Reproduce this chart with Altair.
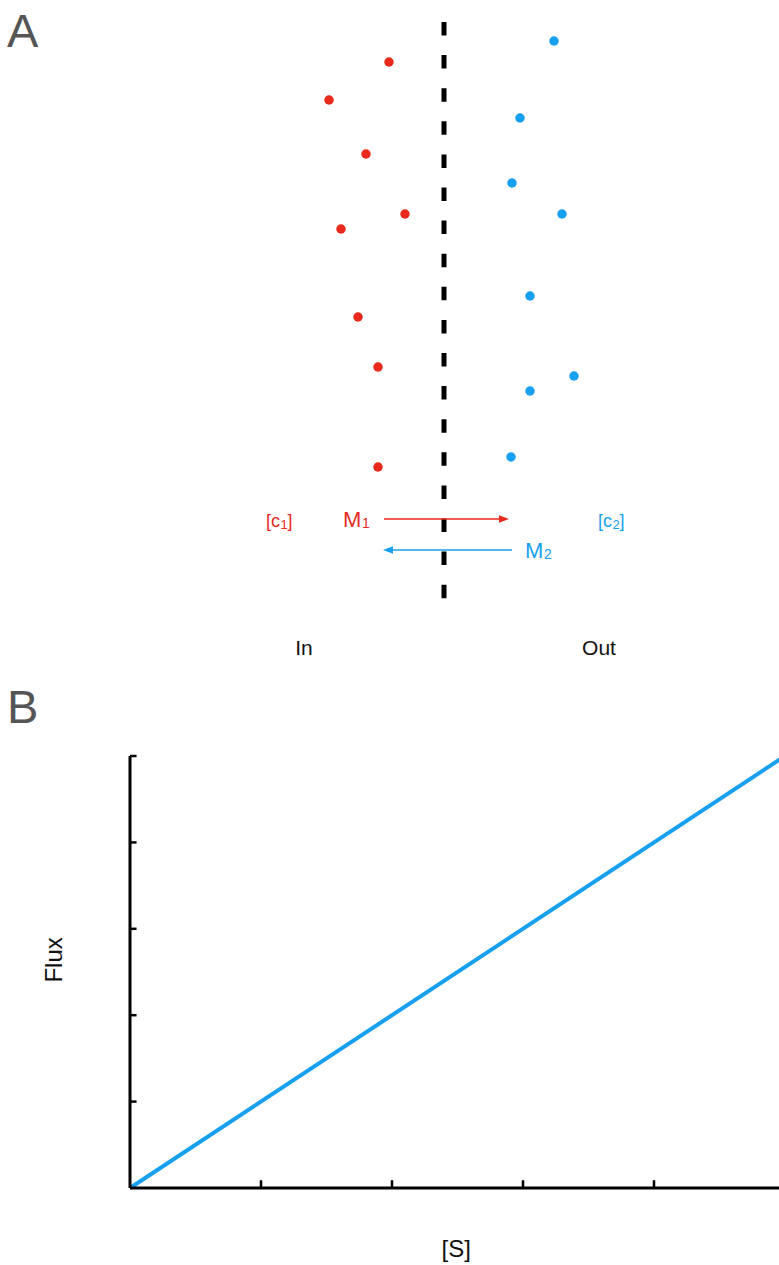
import altair as alt
import pandas as pd

# ---------------- data ----------------
# Panel A (schematic positions)
red_x = [389, 329, 366, 405, 341, 358, 378, 378]
red_y = [62, 100, 154, 214, 229, 317, 367, 467]
blue_x = [554, 520, 512, 562, 530, 574, 530, 511]
blue_y = [41, 118, 183, 214, 296, 376, 391, 457]
membrane_x = [444]
membrane_y = [22, 600]
arrow1 = {"x": [384], "x2": [500], "y": [519], "tip": [509]}
arrow2 = {"x": [512], "x2": [392], "y": [550], "tip": [383]}
# label fragments (main text + subscripts)
red_text = ["[c", "1", "]", "M", "1"]
red_tx = [266, 280.5, 287.5, 343, 362]
red_ty = [527, 529, 527, 527, 528]
red_size = [18, 13, 18, 22, 14]
blue_text = ["[c", "2", "]", "M", "2"]
blue_tx = [598, 612.5, 619.5, 525, 544]
blue_ty = [527, 529, 527, 558, 559]
blue_size = [18, 13, 18, 22, 14]
side_text = ["In", "Out"]
side_x = [304, 599]
side_y = [655, 655]
panel_text = ["A", "B"]
panel_x = [7, 7]
panel_y = [47, 723]

# Panel B
s_vals = [0, 5]
flux_vals = [0, 5]
x_ticks = [1, 2, 3, 4]
y_ticks = [1, 2, 3, 4, 5]

RED = "#E8291C"
BLUE = "#18A0F0"
FONT = "Liberation Sans"
W, H = 779, 1265

AX = alt.Scale(domain=[0, W], range=[0, W])
AY = alt.Scale(domain=[0, H], range=[0, H])
BX = alt.Scale(domain=[0, 5], range=[130, 785])
BY = alt.Scale(domain=[0, 5], range=[1188, 756])


def ax(f):
    return alt.X(f, type="quantitative", scale=AX, axis=None)


def ay(f):
    return alt.Y(f, type="quantitative", scale=AY, axis=None)


def bx(f):
    return alt.X(f, type="quantitative", scale=BX, axis=None)


def by(f):
    return alt.Y(f, type="quantitative", scale=BY, axis=None)


layers = []

# dots
layers.append(alt.Chart(pd.DataFrame({"x": red_x, "y": red_y})).mark_circle(
    size=90, color=RED, opacity=1).encode(x=ax("x"), y=ay("y")))
layers.append(alt.Chart(pd.DataFrame({"x": blue_x, "y": blue_y})).mark_circle(
    size=90, color=BLUE, opacity=1).encode(x=ax("x"), y=ay("y")))

# membrane
layers.append(alt.Chart(pd.DataFrame({"x": membrane_x, "y": [membrane_y[0]], "y2": [membrane_y[1]]})).mark_rule(
    color="black", strokeWidth=5, strokeDash=[13.5, 19.6]).encode(x=ax("x"), y=ay("y"), y2=alt.Y2("y2")))

# arrows
for arr, col, shape in [
    (arrow1, RED, "M 0 0 L -1 -0.38 L -1 0.38 Z"),
    (arrow2, BLUE, "M 0 0 L 1 -0.38 L 1 0.38 Z"),
]:
    df = pd.DataFrame(arr)
    layers.append(alt.Chart(df).mark_rule(color=col, strokeWidth=1.6).encode(
        x=ax("x"), x2=alt.X2("x2"), y=ay("y")))
    layers.append(alt.Chart(df).mark_point(
        shape=shape, size=400, filled=True, color=col, opacity=1, strokeWidth=0).encode(
        x=ax("tip"), y=ay("y")))

# labels with subscripts
for txt, tx, ty, tsz, col in [
    (red_text, red_tx, red_ty, red_size, RED),
    (blue_text, blue_tx, blue_ty, blue_size, BLUE),
]:
    df = pd.DataFrame({"text": txt, "x": tx, "y": ty, "size": tsz})
    for sz in sorted(set(tsz)):
        sub = df[df["size"] == sz]
        layers.append(alt.Chart(sub).mark_text(
            font=FONT, fontSize=sz, color=col, align="left", baseline="alphabetic").encode(
            x=ax("x"), y=ay("y"), text="text:N"))

layers.append(alt.Chart(pd.DataFrame({"text": side_text, "x": side_x, "y": side_y})).mark_text(
    font=FONT, fontSize=21, color="#111111", align="center", baseline="alphabetic").encode(
    x=ax("x"), y=ay("y"), text="text:N"))

layers.append(alt.Chart(pd.DataFrame({"text": panel_text, "x": panel_x, "y": panel_y})).mark_text(
    font=FONT, fontSize=47, color="#555555", align="left", baseline="alphabetic").encode(
    x=ax("x"), y=ay("y"), text="text:N"))

# Panel B: line
layers.append(alt.Chart(pd.DataFrame({"s": s_vals, "flux": flux_vals})).mark_line(
    color=BLUE, strokeWidth=4, clip=False).encode(x=bx("s"), y=by("flux")))

# Panel B: axes lines
layers.append(alt.Chart(pd.DataFrame({"x": [0], "x2": [5], "y": [0]})).mark_rule(
    color="black", strokeWidth=3).encode(x=bx("x"), x2=alt.X2("x2"), y=by("y")))
layers.append(alt.Chart(pd.DataFrame({"x": [0], "y": [0], "y2": [5]})).mark_rule(
    color="black", strokeWidth=3).encode(x=bx("x"), y=by("y"), y2=alt.Y2("y2")))

# Panel B: inward ticks
layers.append(alt.Chart(pd.DataFrame({"x": x_ticks, "y": [0] * len(x_ticks), "y2": [0.09] * len(x_ticks)})).mark_rule(
    color="black", strokeWidth=2.5).encode(x=bx("x"), y=by("y"), y2=alt.Y2("y2")))
layers.append(alt.Chart(pd.DataFrame({"y": y_ticks, "x": [0] * len(y_ticks), "x2": [0.05] * len(y_ticks)})).mark_rule(
    color="black", strokeWidth=2.5).encode(x=bx("x"), x2=alt.X2("x2"), y=by("y")))

# Panel B: axis titles
layers.append(alt.Chart(pd.DataFrame({"x": [2.49], "y": [-0.80], "text": ["[S]"]})).mark_text(
    font=FONT, fontSize=24, color="#111111", align="center", baseline="alphabetic").encode(
    x=bx("x"), y=by("y"), text="text:N"))
layers.append(alt.Chart(pd.DataFrame({"x": [-0.52], "y": [2.64], "text": ["Flux"]})).mark_text(
    font=FONT, fontSize=24, color="#111111", align="center", baseline="alphabetic", angle=270).encode(
    x=bx("x"), y=by("y"), text="text:N"))

chart = alt.layer(*layers).resolve_scale(x="independent", y="independent").properties(
    width=W, height=H, autosize="none", padding=0
).configure_view(stroke=None)

chart.save("out.html", embed_options={"renderer": "svg", "actions": False})
